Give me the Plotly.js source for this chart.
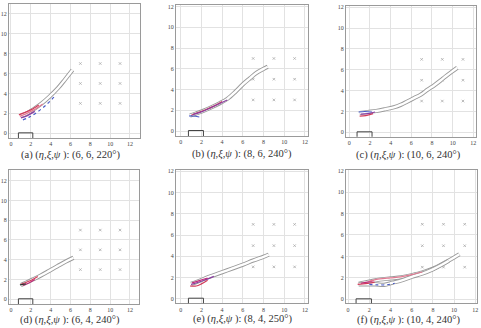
<!DOCTYPE html>
<html>
<head>
<meta charset="utf-8">
<script src="https://cdn.plot.ly/plotly-3.0.1.min.js"></script>
<style>html,body{margin:0;padding:0;background:#fff}#chart{width:481px;height:328px}</style>
</head>
<body>
<div id="chart"></div>
<script>
// ---- data ----
const tickVals = [0, 2, 4, 6, 8, 10, 12];
const gridX = [7, 9, 11, 7, 9, 11, 7, 9, 11];
const gridY = [3, 3, 3, 5, 5, 5, 7, 7, 7];
const captions = [
  "(a) (<i>η</i>,<i>ξ</i>,<i>ψ</i> ): (6, 6, 220°)",
  "(b) (<i>η</i>,<i>ξ</i>,<i>ψ</i> ): (8, 6, 240°)",
  "(c) (<i>η</i>,<i>ξ</i>,<i>ψ</i> ): (10, 6, 240°)",
  "(d) (<i>η</i>,<i>ξ</i>,<i>ψ</i> ): (6, 4, 240°)",
  "(e) (<i>η</i>,<i>ξ</i>,<i>ψ</i> ): (8, 4, 250°)",
  "(f) (<i>η</i>,<i>ξ</i>,<i>ψ</i> ): (10, 4, 240°)"
];
const slotX = [0.75, 2.2];
const slotY = [-1, 0.05];

// panel (a)
const aPathX = [1.0, 1.6, 2.25, 3.1, 3.9, 4.75, 5.45, 6.2];
const aPathY = [1.75, 2.0, 2.4, 3.0, 3.7, 4.55, 5.4, 6.35];
const aRedX = [0.8, 1.3, 2.0, 2.8];
const aRedY = [1.85, 2.05, 2.35, 2.85];
const aPinkX = [0.9, 1.5, 2.3, 3.2];
const aPinkY = [1.7, 1.95, 2.35, 2.95];
const aBlueX = [1.2, 1.8, 2.6, 3.6, 4.5];
const aBlueY = [1.35, 1.6, 2.1, 2.9, 3.8];
const aPurpX = [1.0, 1.6, 2.4];
const aPurpY = [1.55, 1.75, 2.2];

// panel (b)
const bPathX = [0.9, 1.5, 2.2, 3.0, 3.8, 4.5, 5.3, 6.0, 6.7, 7.3, 8.0, 8.4];
const bPathY = [1.5, 1.7, 1.95, 2.3, 2.7, 3.1, 3.8, 4.5, 5.1, 5.6, 6.0, 6.2];
const bRedX = [1.0, 1.6, 2.4, 3.2, 4.0];
const bRedY = [1.5, 1.75, 2.05, 2.4, 2.85];
const bBlueX = [0.8, 1.2, 1.8];
const bBlueY = [1.45, 1.45, 1.35];
const bPurpX = [1.2, 2.0, 3.0, 4.5];
const bPurpY = [1.6, 1.85, 2.3, 3.0];

// panel (c)
const cPathX = [1.0, 1.8, 2.6, 3.4, 4.3, 5.0, 5.6, 6.3, 6.9, 7.6, 8.2, 8.8, 9.3, 9.9, 10.45];
const cPathY = [1.85, 1.95, 2.05, 2.2, 2.4, 2.65, 2.95, 3.3, 3.6, 4.1, 4.5, 4.95, 5.35, 5.8, 6.2];
const cBlueX = [0.9, 1.5, 2.2];
const cBlueY = [1.95, 2.0, 1.95];
const cRedX = [1.0, 1.6, 2.3];
const cRedY = [1.55, 1.6, 1.8];
const cPurpX = [1.1, 1.8, 2.5];
const cPurpY = [1.75, 1.8, 1.95];

// panel (d)
const dPathX = [1.0, 1.5, 2.2, 3.0, 3.9, 4.7, 5.5, 6.3];
const dPathY = [1.45, 1.65, 2.0, 2.4, 2.9, 3.35, 3.8, 4.2];
const dRedX = [1.0, 1.5, 2.1, 2.7];
const dRedY = [1.5, 1.7, 1.95, 2.3];
const dMagX = [1.2, 1.8, 2.4];
const dMagY = [1.4, 1.65, 2.0];
const dDarkX = [0.9, 1.5];
const dDarkY = [1.45, 1.55];

// panel (e)
const ePathX = [1.0, 1.6, 2.2, 3.0, 4.0, 5.0, 6.0, 7.0, 8.0, 8.5];
const ePathY = [1.4, 1.6, 1.85, 2.15, 2.5, 2.85, 3.2, 3.6, 3.95, 4.15];
const eRedX = [0.9, 1.5, 2.0, 2.6];
const eRedY = [1.2, 1.2, 1.4, 1.75];
const ePurpX = [1.0, 1.7, 2.4, 3.2];
const ePurpY = [1.35, 1.55, 1.8, 2.1];
const eMagX = [1.1, 1.8, 2.6];
const eMagY = [1.5, 1.7, 1.95];

// panel (f)
const fUpX = [1.0, 2.0, 3.0, 4.0, 5.0, 6.0, 7.0, 8.0, 9.0, 10.0, 10.5];
const fUpY = [1.45, 1.65, 1.85, 1.95, 2.05, 2.25, 2.5, 2.85, 3.35, 3.9, 4.2];
const fLowX = [1.0, 1.8, 2.6, 3.4, 4.2, 5.0, 6.0, 7.0, 8.0, 8.8, 9.5];
const fLowY = [1.4, 1.4, 1.4, 1.35, 1.55, 1.75, 2.1, 2.4, 2.8, 3.2, 3.6];
const fRedX = [0.9, 1.4, 2.0, 2.5];
const fRedY = [1.4, 1.45, 1.5, 1.6];
const fMagX = [1.2, 1.8, 2.4];
const fMagY = [1.5, 1.6, 1.75];
const fBlueX = [2.0, 2.8, 3.6, 4.4];
const fBlueY = [1.4, 1.35, 1.35, 1.5];
const fPinkX = [2.0, 3.0, 4.0, 5.0, 6.0, 7.0];
const fPinkY = [1.7, 1.9, 2.0, 2.1, 2.3, 2.55];

// ---- layout geometry (pixels) ----
const W = 481, H = 328;
const boxes = [
  {l: 9, r: 139.5, t: 4, b: 138, xr: [-0.20, 12.96], yr: [-0.47, 12.97], cx: 70, cy: 155},
  {l: 176, r: 308.3, t: 5, b: 136, xr: [-0.45, 12.32], yr: [-0.48, 12.16], cx: 242, cy: 154},
  {l: 346, r: 476, t: 6, b: 136.7, xr: [-0.32, 12.26], yr: [-0.42, 12.12], cx: 408, cy: 155},
  {l: 9, r: 139.3, t: 170, b: 304, xr: [-0.20, 12.94], yr: [-0.48, 13.08], cx: 70, cy: 320},
  {l: 176, r: 308.3, t: 170, b: 303.3, xr: [-0.45, 12.32], yr: [-0.43, 12.12], cx: 242, cy: 319},
  {l: 346, r: 477.3, t: 170, b: 303.3, xr: [-0.20, 12.19], yr: [-0.37, 12.06], cx: 408, cy: 320}
];

const RED = '#d23c5a', PINK = '#e27a92', BLUE = '#4a5cc8', PURP = '#8a3fa0', MAG = '#c02a78', DARK = '#333';
const SERIF = 'Liberation Serif, Times New Roman, Times, serif';
const traces = [];
function ax(i) { return i === 0 ? ['x', 'y'] : ['x' + (i + 1), 'y' + (i + 1)]; }
function band(i, xs, ys) {
  const [xa, ya] = ax(i);
  traces.push({x: xs, y: ys, xaxis: xa, yaxis: ya, mode: 'lines', line: {color: '#9a9a9a', width: 4.2, shape: 'spline'}, hoverinfo: 'skip'});
  traces.push({x: xs, y: ys, xaxis: xa, yaxis: ya, mode: 'lines', line: {color: '#ffffff', width: 2.4, shape: 'spline'}, hoverinfo: 'skip'});
}
function curve(i, xs, ys, color, dash) {
  const [xa, ya] = ax(i);
  traces.push({x: xs, y: ys, xaxis: xa, yaxis: ya, mode: 'lines', line: {color: color, width: 1.2, shape: 'spline', dash: dash || 'solid'}, hoverinfo: 'skip'});
}
function grid(i) {
  const [xa, ya] = ax(i);
  traces.push({x: gridX, y: gridY, xaxis: xa, yaxis: ya, mode: 'markers',
    marker: {symbol: 'x-thin', size: 2.5, line: {width: 0.8, color: '#aaa'}}, hoverinfo: 'skip'});
}

grid(0); band(0, aPathX, aPathY);
curve(0, aRedX, aRedY, RED); curve(0, aPinkX, aPinkY, PINK); curve(0, aBlueX, aBlueY, BLUE, 'dot'); curve(0, aPurpX, aPurpY, PURP);
grid(1); band(1, bPathX, bPathY);
curve(1, bRedX, bRedY, RED); curve(1, bBlueX, bBlueY, BLUE); curve(1, bPurpX, bPurpY, PURP);
grid(2); band(2, cPathX, cPathY);
curve(2, cBlueX, cBlueY, BLUE); curve(2, cRedX, cRedY, RED); curve(2, cPurpX, cPurpY, PURP);
grid(3); band(3, dPathX, dPathY);
curve(3, dRedX, dRedY, RED); curve(3, dMagX, dMagY, MAG); curve(3, dDarkX, dDarkY, DARK);
grid(4); band(4, ePathX, ePathY);
curve(4, eRedX, eRedY, RED); curve(4, ePurpX, ePurpY, PURP); curve(4, eMagX, eMagY, MAG);
grid(5); band(5, fUpX, fUpY); band(5, fLowX, fLowY);
curve(5, fRedX, fRedY, RED); curve(5, fMagX, fMagY, MAG); curve(5, fBlueX, fBlueY, BLUE, 'dot'); curve(5, fPinkX, fPinkY, PINK);

const layout = {
  width: W, height: H,
  margin: {l: 0, r: 0, t: 0, b: 0},
  paper_bgcolor: '#fff', plot_bgcolor: '#fff',
  showlegend: false,
  shapes: [], annotations: []
};
const tickFont = {family: SERIF, size: 6, color: '#444'};
boxes.forEach((b, i) => {
  const n = i === 0 ? '' : String(i + 1);
  const common = {showline: true, mirror: true, linecolor: '#9a9a9a', linewidth: 1,
    showgrid: true, gridcolor: '#e2e2e2', gridwidth: 1, zeroline: false,
    tickvals: tickVals, ticks: '', tickfont: tickFont, fixedrange: true};
  layout['xaxis' + n] = Object.assign({}, common, {domain: [b.l / W, b.r / W], range: b.xr, anchor: 'y' + n});
  layout['yaxis' + n] = Object.assign({}, common, {domain: [1 - b.b / H, 1 - b.t / H], range: b.yr, anchor: 'x' + n});
  layout.shapes.push({type: 'rect', xref: 'x' + n, yref: 'y' + n, x0: slotX[0], x1: slotX[1], y0: slotY[0], y1: slotY[1],
    line: {color: '#444', width: 1}, fillcolor: 'rgba(0,0,0,0)'});
  layout.annotations.push({xref: 'paper', yref: 'paper', x: b.cx / W, y: 1 - b.cy / H,
    xanchor: 'center', yanchor: 'middle', showarrow: false, text: captions[i],
    font: {family: SERIF, size: 10.5, color: '#333'}});
});

Plotly.newPlot('chart', traces, layout, {displayModeBar: false, staticPlot: true});
</script>
</body>
</html>
